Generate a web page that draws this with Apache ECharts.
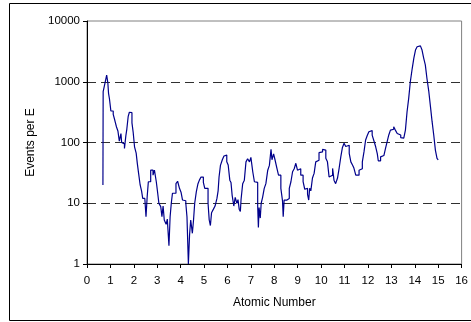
<!DOCTYPE html>
<html>
<head>
<meta charset="utf-8">
<script src="https://cdn.jsdelivr.net/npm/echarts@6/dist/echarts.min.js"></script>
<style>html,body{margin:0;padding:0;background:#fff;}#c{width:471px;height:322px;}</style>
</head>
<body>
<div id="c"></div>
<script>
const xTicks = [0,1,2,3,4,5,6,7,8,9,10,11,12,13,14,15,16];
const yTicks = [1,10,100,1000,10000];
const atomicNumber = [
0.68,0.69,0.77,0.84,0.89,0.92,0.96,1.02,1.12,1.19,1.26,1.32,1.38,1.45,1.48,1.55,1.60,1.66,1.70,1.76,1.81,1.87,1.92,1.97,
2.03,2.10,2.15,2.20,2.27,2.33,2.38,2.47,2.52,2.57,2.62,2.72,2.82,2.88,2.96,3.02,3.07,3.15,3.20,3.25,3.30,3.38,3.43,3.50,
3.55,3.60,3.65,3.80,3.87,3.95,4.02,4.08,4.15,4.22,4.27,4.33,4.38,4.43,4.50,4.55,4.60,4.67,4.74,4.80,4.87,4.97,5.03,5.17,
5.22,5.27,5.32,5.40,5.47,5.55,5.60,5.64,5.70,5.78,5.85,5.90,5.97,6.03,6.10,6.15,6.20,6.27,6.33,6.40,6.45,6.50,6.55,6.58,
6.65,6.72,6.79,6.86,6.94,7.00,7.08,7.15,7.22,7.29,7.32,7.35,7.40,7.44,7.50,7.57,7.64,7.72,7.79,7.86,7.90,7.97,8.03,8.11,
8.18,8.28,8.35,8.38,8.42,8.54,8.64,8.71,8.78,8.85,8.92,8.99,9.06,9.13,9.23,9.30,9.36,9.42,9.47,9.51,9.56,9.63,9.70,9.77,
9.84,9.91,9.98,10.06,10.13,10.20,10.27,10.34,10.42,10.49,10.55,10.62,10.70,10.77,10.84,10.91,10.98,11.05,11.12,11.20,
11.27,11.34,11.40,11.48,11.62,11.70,11.76,11.83,11.90,11.97,12.04,12.10,12.18,12.26,12.33,12.40,12.44,12.54,12.61,12.68,
12.75,12.82,12.89,12.96,13.04,13.10,13.17,13.25,13.32,13.40,13.47,13.53,13.60,13.67,13.74,13.81,13.89,13.96,14.03,14.10,
14.17,14.24,14.31,14.38,14.45,14.52,14.60,14.67,14.74,14.81,14.88,14.95,15.00
];
const eventsPerE = [
20,686,960,1290,960,645,520,330,290,230,180,155,105,140,100,95,80,130,165,270,315,310,210,150,
85,67,45,32,20,16,12,12.5,6,12.8,22.6,35,29,35,22.6,14.6,10,8.8,6,9,5.3,4.5,5.5,2.0,
6,10,14.6,21,23,17.6,15,11.3,11,10,6,1,3,5.3,3.2,5.3,10,15.5,21,24,27,22,17.6,10,
5.3,4.3,7,8,9,12,16,27,42,52,60,62,48,42.6,24,22,13.5,9,12.5,10,11.5,8,7.3,11.5,
21,24,48,54,48,57,33,22.6,22,9,4,8.5,5.7,10,12.5,17.6,21,35,42,77,52,65,52,38,
29,17.6,11,6,11.3,12,17.6,22.6,33,37,45.5,35,37,29,22.6,17,17.6,14,11.3,17.6,16,26,31,48,
51,68,70,77,75,55,48,27,29,37.5,24,21,26,38,58,83,97,86,90,66,
48,42.6,38,29,35,37,48,70,110,130,150,157,132,105,85,65,50,58,61,64,
80,103,133,160,165,182,160,141,133,120,118,125,160,321,533,1000,1650,2450,3320,3770,
3900,3770,3320,2450,1900,1130,686,390,220,133,75,55,52
];

const seriesData = atomicNumber.map((x, i) => [x, eventsPerE[i]]);
const font = 'Arial, "Liberation Sans", sans-serif';

const chart = echarts.init(document.getElementById('c'), null, {renderer: 'canvas'});
chart.setOption({
  animation: false,
  backgroundColor: '#ffffff',
  graphic: [{
    type: 'rect',
    shape: {x: 9.5, y: 3.5, width: 480, height: 317},
    style: {fill: 'none', stroke: '#000', lineWidth: 1},
    z: 100, silent: true
  }],
  grid: {
    left: 87, right: 8, top: 21, bottom: 58,
    show: true, borderColor: '#808080', borderWidth: 1, backgroundColor: 'transparent'
  },
  xAxis: {
    type: 'value',
    min: xTicks[0], max: xTicks[xTicks.length - 1], interval: 1,
    name: 'Atomic Number',
    nameLocation: 'middle',
    nameGap: 33,
    nameTextStyle: {color: '#000', fontFamily: font, fontSize: 12},
    axisLine: {show: true, onZero: false, lineStyle: {color: '#000', width: 1}},
    axisTick: {show: true, inside: false, length: 4, lineStyle: {color: '#000'}},
    axisLabel: {color: '#000', fontFamily: font, fontSize: 11.5, margin: 11,
      formatter: v => String(v)},
    splitLine: {show: false}
  },
  yAxis: {
    type: 'log', logBase: 10,
    min: yTicks[0], max: yTicks[yTicks.length - 1],
    name: 'Events per E',
    nameLocation: 'middle',
    nameGap: 49,
    nameRotate: 90,
    nameTextStyle: {color: '#000', fontFamily: font, fontSize: 12},
    axisLine: {show: true, lineStyle: {color: '#000', width: 1}},
    axisTick: {show: true, inside: false, length: 4, lineStyle: {color: '#000'}},
    axisLabel: {color: '#000', fontFamily: font, fontSize: 11.5, margin: 7,
      formatter: v => String(Math.round(v))},
    splitLine: {show: true, showMinLine: false, showMaxLine: false,
      lineStyle: {color: '#303030', width: 1, type: [9, 5]}},
    minorTick: {show: false}
  },
  series: [{
    type: 'line',
    step: 'end',
    data: seriesData,
    showSymbol: false,
    symbol: 'none',
    lineStyle: {color: '#00008B', width: 1.2},
    clip: true
  }]
});
</script>
</body>
</html>
